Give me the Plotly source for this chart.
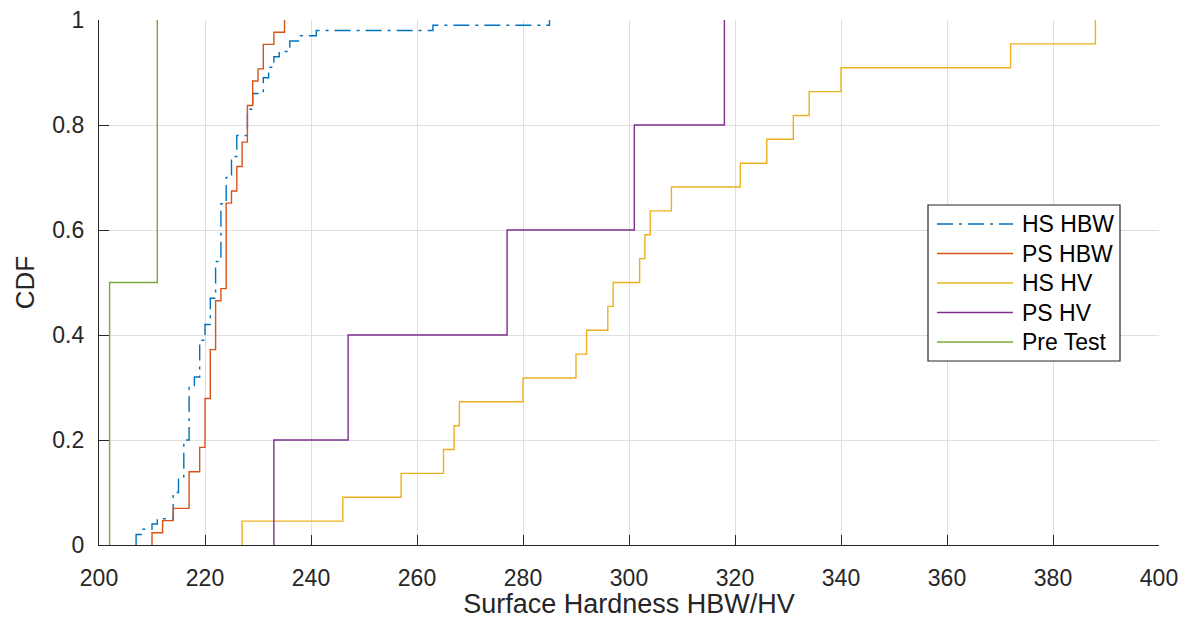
import plotly.graph_objects as go

# Brinell hardness samples (distinct values and how often each was measured)
hs_hbw_values = [207, 208, 210, 211, 214, 215, 216, 217, 218, 219, 220, 221, 222, 223,
                 224, 225, 226, 228, 229, 231, 232, 233, 234, 236, 238, 241, 263, 285]
hs_hbw_counts = [2, 1, 1, 1, 5, 3, 7, 10, 2, 7, 3, 5, 7, 11,
                 5, 4, 4, 5, 3, 3, 2, 2, 1, 2, 1, 1, 1, 1]

ps_hbw_values = [210, 212, 214, 217, 219, 220, 221, 222, 223, 224,
                 225, 226, 227, 228, 229, 230, 231, 233, 235]
ps_hbw_counts = [1, 1, 1, 3, 2, 4, 4, 4, 1, 7,
                 1, 2, 2, 3, 2, 1, 2, 1, 1]

# Vickers hardness samples
hs_hv = [227, 246, 257, 265, 267, 268, 280, 290, 292, 296, 297,
         302, 303, 304, 308, 321, 326, 331, 334, 340, 372, 388]
ps_hv = [233, 247, 277, 301, 318]

# Pre-test reference measurements
pre_test = [202, 211]

FONT = "Liberation Sans, Arial, Helvetica, sans-serif"
INK = "#262626"
DASHDOT = "16px,6px,3px,6px"

# plot-area geometry in pixels
W, H = 1189, 619
ML, MR, MT, MB = 99, 30, 20, 74
PW, PH = W - ML - MR, H - MT - MB


def expand(values, counts):
    out = []
    for v, c in zip(values, counts):
        out.extend([v] * c)
    return out


def ecdf_steps(samples):
    """Empirical CDF as stair vertices (start at F=0 on the smallest sample)."""
    s = sorted(samples)
    n = len(s)
    xs, ys = [s[0]], [0.0]
    i = 0
    while i < n:
        j = i
        while j < n and s[j] == s[i]:
            j += 1
        xs.append(s[i])
        ys.append(j / n)
        i = j
    return xs, ys


series = [
    ("HS HBW", expand(hs_hbw_values, hs_hbw_counts), "#0072BD", DASHDOT),
    ("PS HBW", expand(ps_hbw_values, ps_hbw_counts), "#D95319", "solid"),
    ("HS HV", hs_hv, "#EDB120", "solid"),
    ("PS HV", ps_hv, "#7E2F8E", "solid"),
    ("Pre Test", pre_test, "#77AC30", "solid"),
]

fig = go.Figure()
for name, data, color, dash in series:
    x, y = ecdf_steps(data)
    fig.add_trace(go.Scatter(
        x=x, y=y, name=name, mode="lines", showlegend=False,
        line=dict(color=color, width=1.4, dash=dash, shape="hv"),
    ))

axis_common = dict(
    showgrid=True, gridcolor="#DFDFDF", gridwidth=1,
    zeroline=False, showline=True, linecolor=INK, linewidth=1.2,
    ticks="inside", ticklen=10, tickwidth=1.3, tickcolor=INK,
    tickfont=dict(family=FONT, size=23, color=INK),
    mirror=False, automargin=False,
)


def px_to_paper(px, py):
    return (px - ML) / PW, (H - MB - py) / PH


# boxed legend in the right half of the axes
box_x0, box_y0 = px_to_paper(928, 205)
box_x1, box_y1 = px_to_paper(1120, 361)
shapes = [dict(type="rect", xref="paper", yref="paper",
               x0=box_x0, x1=box_x1, y0=box_y1, y1=box_y0,
               line=dict(color=INK, width=1.2), fillcolor="white", layer="above")]
annotations = []
row_y = [224, 253.5, 283, 312.5, 342]
for (name, _, color, dash), py in zip(series, row_y):
    lx0, ly = px_to_paper(937, py)
    lx1, _ = px_to_paper(1013, py)
    shapes.append(dict(type="line", xref="paper", yref="paper",
                       x0=lx0, x1=lx1, y0=ly, y1=ly, layer="above",
                       line=dict(color=color, width=1.4, dash=dash)))
    tx, _ = px_to_paper(1020, py)
    annotations.append(dict(xref="paper", yref="paper", x=tx, y=ly,
                            xanchor="left", yanchor="middle", showarrow=False,
                            text=name, font=dict(family=FONT, size=23, color="#000000")))

fig.update_layout(
    width=W, height=H,
    margin=dict(l=ML, r=MR, t=MT, b=MB),
    paper_bgcolor="white", plot_bgcolor="white",
    font=dict(family=FONT, color=INK),
    xaxis=dict(range=[200, 400], dtick=20, tick0=200,
               title=dict(text="Surface Hardness HBW/HV", font=dict(size=27), standoff=5),
               ticklabelstandoff=12, **axis_common),
    yaxis=dict(range=[0, 1], dtick=0.2, tick0=0,
               title=dict(text="CDF", font=dict(size=26), standoff=10),
               ticklabelstandoff=9, **axis_common),
    shapes=shapes,
    annotations=annotations,
    showlegend=False,
)

fig.write_html("out.html")
